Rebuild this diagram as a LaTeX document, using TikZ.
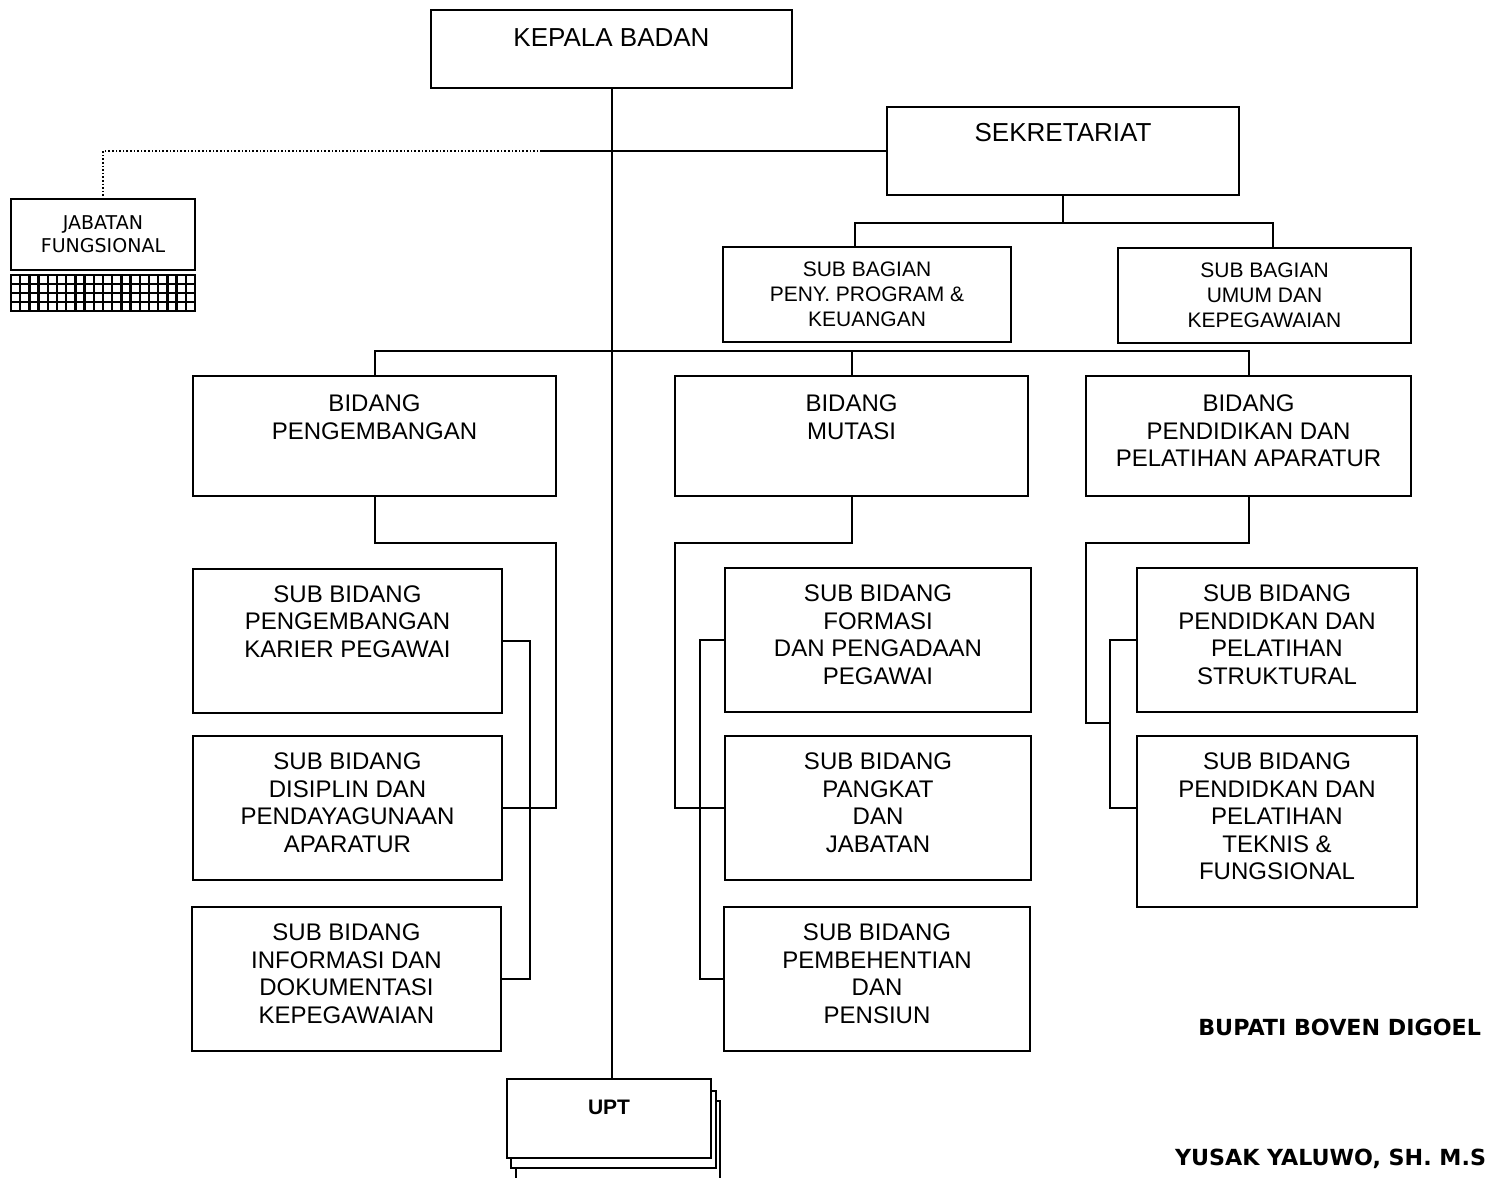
\documentclass[tikz,border=0pt]{standalone}
\usepackage{fontspec}
\setmainfont{Liberation Sans}
\newfontfamily\tahomafont{DejaVu Sans}
\usetikzlibrary{positioning}
\tikzset{unit/.style={draw, fill=white, line width=1pt, inner sep=0pt}}
\tikzset{boxtitle/.style={anchor=north, align=center, inner sep=0pt, font=\fontsize{12}{13.75}\selectfont}}
\tikzset{bidang/.style={unit, minimum height=60pt}}
\tikzset{subbidang/.style={unit, minimum width=154.5pt, minimum height=72pt}}
\tikzset{subbagian/.style={unit, align=center, minimum height=47.5pt, font=\fontsize{10.5}{12.5}\selectfont}}
\tikzset{signature/.style={anchor=east, inner sep=0pt, font=\tahomafont\bfseries\fontsize{11.1}{13}\selectfont}}

\begin{document}
\begin{tikzpicture}[x=0.5pt, y=-0.5pt, line width=1pt]
\useasboundingbox (0,0) rectangle (1486,1177);
% Nodes
\node (kepala) [unit, minimum width=180.5pt, minimum height=39pt, label={[boxtitle, font=\fontsize{13}{15}\selectfont, yshift=-9.3pt]north:KEPALA BADAN}] at (611.5,49) {};
\node (sekret) [unit, minimum width=176pt, minimum height=44pt, label={[boxtitle, font=\fontsize{13}{15}\selectfont, yshift=-8pt]north:SEKRETARIAT}] at (1063,151) {};

\node (jabatan) [unit, minimum width=92pt, minimum height=35.5pt, align=center, font=\tahomafont\fontsize{9.5}{11.5}\selectfont] at (103,234.5) {JABATAN\\FUNGSIONAL};
\node (jabGrid) [unit, minimum width=92pt, minimum height=18pt, below=1.5pt of jabatan, path picture={\draw[line width=1.2pt, step=4.6pt] (path picture bounding box.south west) grid (path picture bounding box.north east);}] {};

\node (bagPeny) [subbagian, minimum width=144pt] at (867,294) {SUB BAGIAN\\PENY. PROGRAM \&\\KEUANGAN};
\node (bagUmum) [subbagian, minimum width=146.5pt] at (1264.5,295.5) {SUB BAGIAN\\UMUM DAN\\KEPEGAWAIAN};

\node (bidPeng) [bidang, minimum width=181.5pt, label={[boxtitle, yshift=-9.5pt]north:BIDANG\\PENGEMBANGAN}] at (374.5,436) {};
\node (bidMutasi) [bidang, minimum width=176.5pt, label={[boxtitle, yshift=-9.5pt]north:BIDANG\\MUTASI}] at (851.5,436) {};
\node (bidPend) [bidang, minimum width=162.5pt, label={[boxtitle, yshift=-9.5pt]north:BIDANG\\PENDIDIKAN DAN\\PELATIHAN APARATUR}] at (1248.5,436) {};

\node (subKarier) [subbidang, label={[boxtitle, yshift=-8.5pt]north:SUB BIDANG\\PENGEMBANGAN\\KARIER PEGAWAI}] at (347.5,640.5) {};
\node (subDisiplin) [subbidang, label={[boxtitle, yshift=-8.5pt]north:SUB BIDANG\\DISIPLIN DAN\\PENDAYAGUNAAN\\APARATUR}] at (347.5,808) {};
\node (subInfo) [subbidang, label={[boxtitle, yshift=-8.5pt]north:SUB BIDANG\\INFORMASI DAN\\DOKUMENTASI\\KEPEGAWAIAN}] at (346.5,979) {};

\node (subFormasi) [subbidang, minimum width=153pt, label={[boxtitle, yshift=-8.5pt]north:SUB BIDANG\\FORMASI\\DAN PENGADAAN\\PEGAWAI}] at (878,640) {};
\node (subPangkat) [subbidang, minimum width=153pt, label={[boxtitle, yshift=-8.5pt]north:SUB BIDANG\\PANGKAT\\DAN\\JABATAN}] at (878,808) {};
\node (subPensiun) [subbidang, minimum width=153pt, label={[boxtitle, yshift=-8.5pt]north:SUB BIDANG\\PEMBEHENTIAN\\DAN\\PENSIUN}] at (877,979) {};

\node (subStruktural) [subbidang, minimum width=140pt, label={[boxtitle, yshift=-8.5pt]north:SUB BIDANG\\PENDIDKAN DAN\\PELATIHAN\\STRUKTURAL}] at (1277,640) {};
\node (subTeknis) [subbidang, minimum width=140pt, minimum height=85.5pt, label={[boxtitle, yshift=-8.5pt]north:SUB BIDANG\\PENDIDKAN DAN\\PELATIHAN\\TEKNIS \&\\FUNGSIONAL}] at (1277,821.5) {};

\node (uptBackB) [unit, minimum width=102pt, minimum height=45pt] at (618,1145.5) {};
\node (uptBackA) [unit, minimum width=102.5pt, minimum height=38.5pt] at (613.5,1129.5) {};
\node (upt) [unit, minimum width=102pt, minimum height=39.5pt, label={[boxtitle, font=\bfseries\fontsize{10.5}{12}\selectfont, yshift=-10.5pt]north:UPT}] at (609,1118.5) {};

\node (bupati) [signature] at (1482,1027) {BUPATI BOVEN DIGOEL};
\node (yusak) [signature] at (1487,1159) {YUSAK YALUWO, SH. M.S};

% Connectors
\draw (kepala.south) -- (kepala.south |- upt.north);

\coordinate (dotEnd) at (542,151);
\draw (sekret.west) -- (dotEnd);
\draw [densely dotted, line width=0.8pt] (dotEnd) -| (jabatan.north);

\draw (sekret.south) -- ++(0,27) coordinate (sekBus);
\draw ([xshift=-6pt]bagPeny.north) |- (sekBus) -| ([xshift=4pt]bagUmum.north);

\draw (bidPeng.north) -- ++(0,-24) -| (bidPend.north);
\draw (bidMutasi.north) -- ++(0,-24);

\coordinate (pengBend) at (556,543);
\draw (bidPeng.south) |- (pengBend) |- (subDisiplin.east);
\draw (subKarier.east) -- ++(27,0) |- (subInfo.east);

\coordinate (mutasiBend) at (675,543);
\draw (bidMutasi.south) |- (mutasiBend) |- (subPangkat.west);
\draw (subFormasi.west) -- ++(-24,0) |- (subPensiun.west);

\coordinate (pendBend) at (1086,543);
\coordinate (pendJoin) at (1111,723);
\draw (bidPend.south) |- (pendBend) |- (pendJoin);
\draw (subStruktural.west) -- ++(-26,0) |- ([yshift=6.75pt]subTeknis.west);
\end{tikzpicture}
\end{document}
